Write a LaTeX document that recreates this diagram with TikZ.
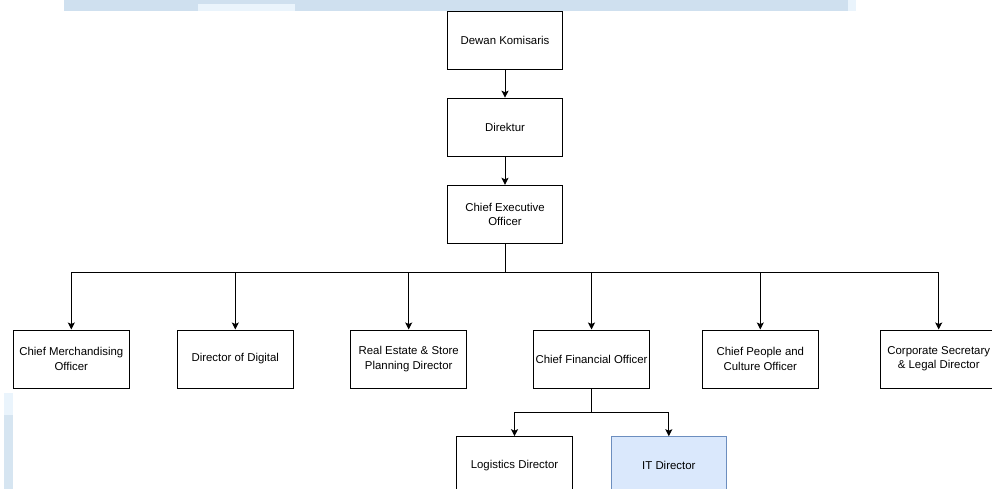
\documentclass[tikz,border=0pt]{standalone}
\usepackage{fontspec}
\setmainfont{Liberation Sans}
\usetikzlibrary{arrows.meta}
\definecolor{bandblue}{HTML}{CFE0EF}
\definecolor{paleblue}{HTML}{EAF4FC}
\definecolor{itfill}{HTML}{DAE8FC}
\definecolor{itline}{HTML}{6C8EBF}
\begin{document}
\begin{tikzpicture}[x=1pt, y=-1pt,
    box/.style = {draw, line width=1pt, minimum width=115.5pt, minimum height=58pt,
      inner sep=1pt, align=center, font=\fontsize{11.4}{14.3}\selectfont},
    arr/.style = {line width=1pt, -{Stealth[length=7pt, width=7pt, inset=1.5pt]}}]
    \useasboundingbox (0,0) rectangle (992,489);
    % background strips
    \fill [bandblue] (64,0) rectangle (856,11);
    \fill [paleblue] (198,4) rectangle (295,11);
    \fill [paleblue] (848,0) rectangle (856,11);
    \fill [paleblue] (4,393) rectangle (13,415);
    \fill [bandblue!85] (4,415) rectangle (13,489);
    \coordinate (bus) at (505,272.3);
    \coordinate (subbus) at (591.5,412.3);
    \node [box] (dk)  at (505,40.2)  {Dewan Komisaris};
    \node [box] (dir) at (505,127.2) {Direktur};
    \node [box] (ceo) at (505,214.3) {Chief Executive\\Officer};
    \node [box] (cmo) at (71.3,359)  {Chief Merchandising\\Officer};
    \node [box] (dod) at (235.3,359) {Director of Digital};
    \node [box] (re)  at (408.7,359) {Real Estate \& Store\\Planning Director};
    \node [box] (cfo) at (591.5,359) {Chief Financial Officer};
    \node [box] (cpo) at (760.3,359) {Chief People and\\Culture Officer};
    \node [box] (csl) at (938.7,359) {Corporate Secretary\\\& Legal Director};
    \node [box] (log) at (514.5,465.7) {Logistics Director};
    \node [box, fill=itfill, draw=itline] (itd) at (668.8,465.7) {IT Director};
    \draw [arr] (dk) -- (dir);
    \draw [arr] (dir) -- (ceo);
    \draw [line width=1pt] (ceo.south) -- (bus);
    \draw [arr] (bus) -| (cmo.north);
    \draw [arr] (bus) -| (dod.north);
    \draw [arr] (bus) -| (re.north);
    \draw [arr] (bus) -| (cfo.north);
    \draw [arr] (bus) -| (cpo.north);
    \draw [arr] (bus) -| (csl.north);
    \draw [line width=1pt] (cfo.south) -- (subbus);
    \draw [arr] (subbus) -| (log.north);
    \draw [arr] (subbus) -| (itd.north);
  \end{tikzpicture}
\end{document}
